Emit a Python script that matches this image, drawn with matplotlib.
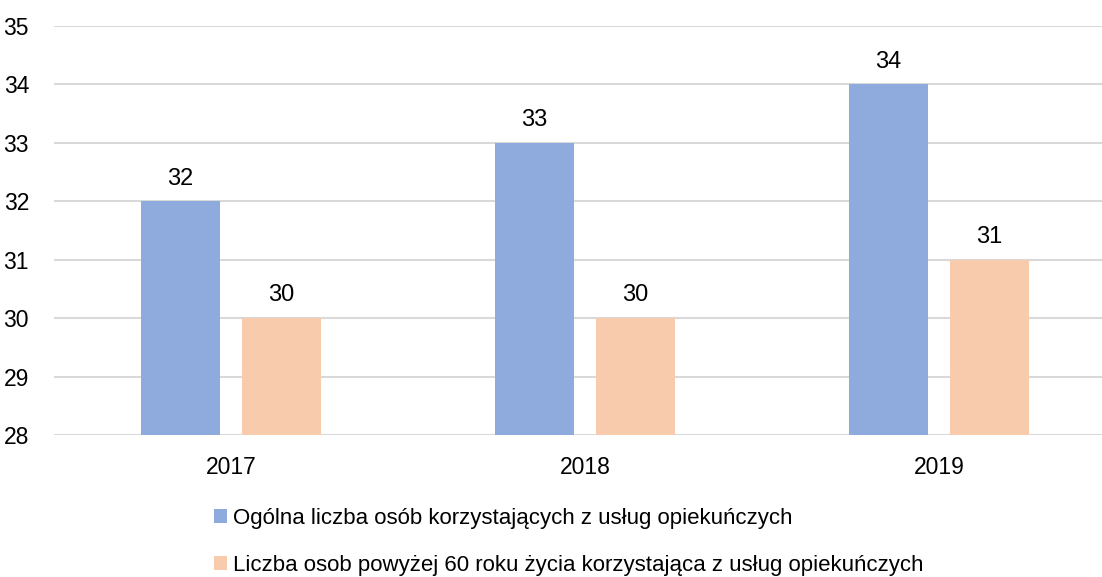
import matplotlib
matplotlib.use("Agg")
import matplotlib.pyplot as plt
import numpy as np

plt.rcParams["font.family"] = ["Liberation Sans Narrow", "Liberation Sans", "DejaVu Sans"]

years = ["2017", "2018", "2019"]
ogolna = [32, 33, 34]
powyzej60 = [30, 30, 31]
labels = ["Ogólna liczba osób korzystających z usług opiekuńczych",
          "Liczba osob powyżej 60 roku życia korzystająca z usług opiekuńczych"]
colors = ["#8faadc", "#f8cbad"]

W, H = 1102, 577
fig = plt.figure(figsize=(W / 100, H / 100), dpi=100)
ax = fig.add_axes([54 / W, 1 - 435 / H, (1116 - 54) / W, (435 - 26) / H])

x = np.arange(len(years))
off = 0.143
bw = 0.223
b1 = ax.bar(x - off, [v - 28 for v in ogolna], bw, bottom=28, color=colors[0], label=labels[0], zorder=2)
b2 = ax.bar(x + off, [v - 28 for v in powyzej60], bw, bottom=28, color=colors[1], label=labels[1], zorder=2)

for bars, vals in ((b1, ogolna), (b2, powyzej60)):
    for r, v in zip(bars, vals):
        ax.text(r.get_x() + r.get_width() / 2, v + 0.2, str(v), ha="center", va="bottom", fontsize=17)

ax.set_ylim(28, 35)
ax.set_xlim(-0.5, 2.5)
ax.set_yticks(range(28, 36))
ax.set_xticks(x)
ax.set_xticklabels(years)
ax.tick_params(axis="both", length=0, labelsize=16.5)
ax.tick_params(axis="y", pad=18)
ax.tick_params(axis="x", pad=15)
ax.yaxis.grid(True, color="#d9d9d9", linewidth=1.5, zorder=0)
for s in ax.spines.values():
    s.set_visible(False)

fig.legend(handles=[b1, b2], loc="upper left", bbox_to_anchor=(214 / W, 1 - 508 / H),
           frameon=False, fontsize=16, handlelength=0.6, handleheight=0.6,
           handletextpad=0.25, labelspacing=1.15, borderpad=0, borderaxespad=0)

fig.savefig("out.png", dpi=100)
